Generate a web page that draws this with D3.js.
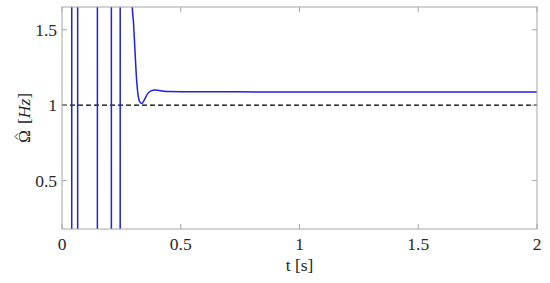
<!DOCTYPE html>
<html>
<head>
<meta charset="utf-8">
<script src="https://cdn.jsdelivr.net/npm/d3@7"></script>
</head>
<body style="margin:0">
<script>
// estimated signal: big swings off-scale, then settling near 1.088 Hz
const tValues = [0, 0.040, 0.042, 0.065, 0.067, 0.148, 0.150, 0.207, 0.209, 0.244, 0.246,
  0.270, 0.285, 0.292, 0.296, 0.301, 0.307, 0.314, 0.321, 0.328, 0.336, 0.345, 0.360,
  0.375, 0.392, 0.420, 0.450, 0.500, 1.000, 2.000];
const omegaValues = [-20, -20, 20, 20, -20, -20, 20, 20, -20, -20, 20,
  8, 3, 2.0, 1.65, 1.55, 1.37, 1.17, 1.06, 1.02, 1.011, 1.03, 1.075,
  1.095, 1.10, 1.094, 1.090, 1.089, 1.088, 1.088];
const refValue = 1;
const xTicks = [0, 0.5, 1, 1.5, 2];
const yTicks = [0.5, 1, 1.5];

const width = 550, height = 283;
const margin = { top: 7, right: 13, bottom: 54, left: 62 };
const w = width - margin.left - margin.right;
const h = height - margin.top - margin.bottom;
const fontFam = 'Liberation Serif, Tinos, Times New Roman, serif';
const fontSize = 17.5;
const textColor = '#262626';

const data = tValues.map((t, i) => ({ x: t, y: omegaValues[i] }));

const svg = d3.select('body').append('svg')
  .attr('width', width)
  .attr('height', height);

const g = svg.append('g')
  .attr('transform', `translate(${margin.left},${margin.top})`);

const xScale = d3.scaleLinear().domain([0, 2]).range([0, w]);
const yScale = d3.scaleLinear().domain([0.179, 1.651]).range([h, 0]);

g.append('clipPath').attr('id', 'clip')
  .append('rect').attr('width', w).attr('height', h);

// reference line
g.append('line')
  .attr('clip-path', 'url(#clip)')
  .attr('x1', 0).attr('x2', w)
  .attr('y1', yScale(refValue)).attr('y2', yScale(refValue))
  .attr('stroke', '#000')
  .attr('stroke-width', 1.3)
  .attr('stroke-dasharray', '5,3');

const line = d3.line()
  .x(d => xScale(d.x))
  .y(d => yScale(d.y))
  .curve(d3.curveMonotoneX);

g.append('path')
  .datum(data)
  .attr('clip-path', 'url(#clip)')
  .attr('fill', 'none')
  .attr('stroke', '#1f1fe6')
  .attr('stroke-width', 1.5)
  .attr('d', line);

// box and ticks
const axisColor = '#a6a6a6';
const tickLen = 5;

g.append('rect')
  .attr('width', w).attr('height', h)
  .attr('fill', 'none')
  .attr('stroke', axisColor)
  .attr('stroke-width', 1);

xTicks.forEach(t => {
  const x = xScale(t);
  g.append('line').attr('x1', x).attr('x2', x).attr('y1', h).attr('y2', h - tickLen)
    .attr('stroke', axisColor);
  g.append('line').attr('x1', x).attr('x2', x).attr('y1', 0).attr('y2', tickLen)
    .attr('stroke', axisColor);
  svg.append('text')
    .attr('x', margin.left + x).attr('y', margin.top + h + 21)
    .attr('text-anchor', 'middle')
    .attr('font-family', fontFam)
    .attr('font-size', fontSize)
    .attr('fill', textColor)
    .text(t);
});

yTicks.forEach(v => {
  const y = yScale(v);
  g.append('line').attr('x1', 0).attr('x2', tickLen).attr('y1', y).attr('y2', y)
    .attr('stroke', axisColor);
  g.append('line').attr('x1', w).attr('x2', w - tickLen).attr('y1', y).attr('y2', y)
    .attr('stroke', axisColor);
  svg.append('text')
    .attr('x', margin.left - 5).attr('y', margin.top + y + 6)
    .attr('text-anchor', 'end')
    .attr('font-family', fontFam)
    .attr('font-size', fontSize)
    .attr('fill', textColor)
    .text(v);
});

// axis labels
svg.append('text')
  .attr('x', margin.left + w / 2).attr('y', margin.top + h + 42)
  .attr('text-anchor', 'middle')
  .attr('font-family', fontFam)
  .attr('font-size', fontSize)
  .attr('fill', textColor)
  .text('t [s]');

const labelTransform = `translate(30,${margin.top + h / 2}) rotate(-90)`;
const yLabel = svg.append('text')
  .attr('transform', labelTransform)
  .attr('text-anchor', 'middle')
  .attr('font-family', fontFam)
  .attr('font-size', fontSize)
  .attr('fill', textColor);
yLabel.append('tspan').attr('class', 'omega').text('\u03A9');
yLabel.append('tspan').attr('dx', 6).text('[');
yLabel.append('tspan').attr('font-style', 'italic').text('Hz');
yLabel.append('tspan').text(']');

// hat over omega
const om = yLabel.select('.omega').node();
const ext = om.getExtentOfChar ? om.getExtentOfChar(0) : null;
if (ext) {
  const cx = ext.x + ext.width / 2;
  const top = ext.y + ext.height * 0.2;
  svg.append('path')
    .attr('transform', labelTransform)
    .attr('d', `M${cx - 3},${top} L${cx},${top - 3} L${cx + 3},${top}`)
    .attr('fill', 'none')
    .attr('stroke', textColor)
    .attr('stroke-width', 0.9);
}
</script>
</body>
</html>
